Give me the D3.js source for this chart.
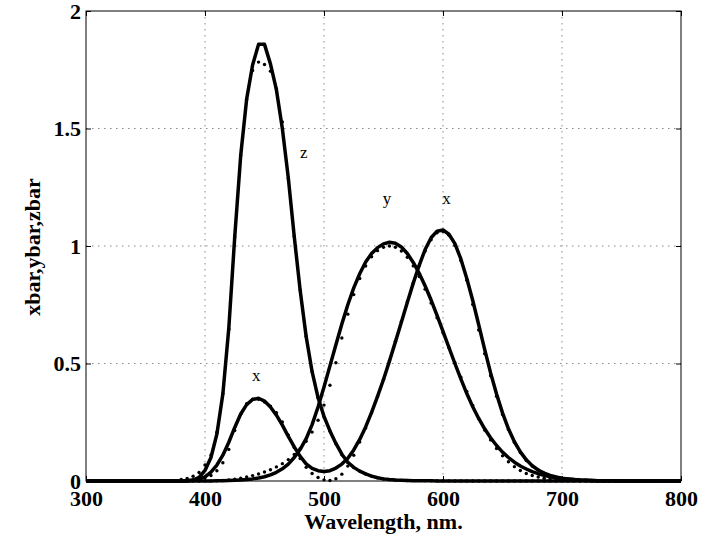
<!DOCTYPE html>
<html>
<head>
<meta charset="utf-8">
<script src="https://cdn.jsdelivr.net/npm/d3@7.9.0/dist/d3.min.js"></script>
<style>
  body { margin: 0; background: #fff; }
  svg { display: block; font-family: "Liberation Serif", "Times New Roman", Times, serif; }
</style>
</head>
<body>
<svg id="chart" width="715" height="535"></svg>
<script>
// CIE 1931 colour matching data, 5 nm steps (dotted)
const wavelengths = [380,385,390,395,400,405,410,415,420,425,430,435,440,445,450,455,460,465,470,475,
  480,485,490,495,500,505,510,515,520,525,530,535,540,545,550,555,560,565,570,575,
  580,585,590,595,600,605,610,615,620,625,630,635,640,645,650,655,660,665,670,675,
  680,685,690,695,700,705,710,715,720,725,730,735,740,745,750,755,760,765,770,775,780];

const xbarData = [
  0.0014,0.0022,0.0042,0.0076,0.0143,0.0232,0.0435,0.0776,0.1344,0.2148,
  0.2839,0.3285,0.3483,0.3481,0.3362,0.3187,0.2908,0.2511,0.1954,0.1421,
  0.0956,0.0580,0.0320,0.0147,0.0049,0.0024,0.0093,0.0291,0.0633,0.1096,
  0.1655,0.2257,0.2904,0.3597,0.4334,0.5121,0.5945,0.6784,0.7621,0.8425,
  0.9163,0.9786,1.0263,1.0567,1.0622,1.0456,1.0026,0.9384,0.8544,0.7514,
  0.6424,0.5419,0.4479,0.3608,0.2835,0.2187,0.1649,0.1212,0.0874,0.0636,
  0.0468,0.0329,0.0227,0.0158,0.0114,0.0081,0.0058,0.0041,0.0029,0.0020,
  0.0014,0.0010,0.0007,0.0005,0.0003,0.0002,0.0002,0.0001,0.0001,0.0001,
  0.0000];
const ybarData = [
  0.0000,0.0001,0.0001,0.0002,0.0004,0.0006,0.0012,0.0022,0.0040,0.0073,
  0.0116,0.0168,0.0230,0.0298,0.0380,0.0480,0.0600,0.0739,0.0910,0.1126,
  0.1390,0.1693,0.2080,0.2586,0.3230,0.4073,0.5030,0.6082,0.7100,0.7932,
  0.8620,0.9149,0.9540,0.9803,0.9950,1.0000,0.9950,0.9786,0.9520,0.9154,
  0.8700,0.8163,0.7570,0.6949,0.6310,0.5668,0.5030,0.4412,0.3810,0.3210,
  0.2650,0.2170,0.1750,0.1382,0.1070,0.0816,0.0610,0.0446,0.0320,0.0232,
  0.0170,0.0119,0.0082,0.0057,0.0041,0.0029,0.0021,0.0015,0.0010,0.0007,
  0.0005,0.0004,0.0002,0.0002,0.0001,0.0001,0.0001,0.0001,0.0000,0.0000,
  0.0000];
const zbarData = [
  0.0065,0.0105,0.0201,0.0362,0.0679,0.1102,0.2074,0.3713,0.6456,1.0391,
  1.3856,1.6230,1.7471,1.7826,1.7721,1.7441,1.6692,1.5281,1.2876,1.0419,
  0.8130,0.6162,0.4652,0.3533,0.2720,0.2123,0.1582,0.1117,0.0782,0.0573,
  0.0422,0.0298,0.0203,0.0134,0.0087,0.0057,0.0039,0.0027,0.0021,0.0018,
  0.0017,0.0014,0.0011,0.0010,0.0008,0.0006,0.0003,0.0002,0.0002,0.0001,
  0,0,0,0,0,0,0,0,0,0,
  0,0,0,0,0,0,0,0,0,0,
  0,0,0,0,0,0,0,0,0,0,
  0];

// fitted curves (solid); padded with 300 and 800 nm
const fitWavelengths = [300].concat(wavelengths, [800]);
const xFit = [0,
  0.000,0.001,0.003,0.008,0.018,0.038,0.068,0.110,0.165,0.228,
  0.285,0.325,0.347,0.352,0.340,0.315,0.280,0.238,0.190,0.145,
  0.105,0.073,0.054,0.044,0.040,0.044,0.055,0.072,0.097,0.132,
  0.177,0.230,0.292,0.360,0.432,0.510,0.592,0.676,0.760,0.842,
  0.918,0.985,1.035,1.063,1.068,1.050,1.010,0.945,0.862,0.768,
  0.665,0.560,0.460,0.370,0.290,0.222,0.167,0.124,0.090,0.065,
  0.047,0.034,0.024,0.017,0.012,0.009,0.006,0.004,0.003,0.002,
  0.0015,0.001,0.0007,0.0005,0.0003,0.0002,0.0002,0.0001,0.0001,0.0001,
  0, 0];
const yFit = [0,
  0,0,0,0,0.0002,0.0004,0.0007,0.0012,0.002,0.003,
  0.0045,0.0065,0.009,0.013,0.018,0.026,0.037,0.052,0.072,0.100,
  0.135,0.180,0.240,0.315,0.400,0.490,0.580,0.668,0.750,0.822,
  0.882,0.932,0.968,0.993,1.009,1.016,1.012,0.996,0.968,0.930,
  0.884,0.830,0.770,0.705,0.637,0.568,0.500,0.435,0.372,0.316,
  0.266,0.222,0.184,0.151,0.123,0.100,0.080,0.064,0.051,0.040,
  0.031,0.024,0.018,0.014,0.010,0.008,0.006,0.004,0.003,0.002,
  0.0015,0.001,0.0008,0.0006,0.0004,0.0003,0.0002,0.0001,0.0001,0,
  0, 0];
const zFit = [0,
  0.000,0.001,0.004,0.015,0.045,0.100,0.200,0.370,0.650,1.040,
  1.385,1.625,1.770,1.858,1.858,1.775,1.665,1.500,1.290,1.040,
  0.810,0.615,0.465,0.355,0.275,0.213,0.160,0.114,0.080,0.058,
  0.042,0.030,0.021,0.014,0.009,0.006,0.004,0.003,0.002,0.0015,
  0.001,0.0008,0.0006,0.0004,0.0003,0,0,0,0,0,
  0,0,0,0,0,0,0,0,0,0,
  0,0,0,0,0,0,0,0,0,0,
  0,0,0,0,0,0,0,0,0,0,
  0, 0];

// curve labels
const curveLabels = ["z", "y", "x", "x"];
const labelWl = [483, 553, 603, 443];
const labelVal = [1.373, 1.179, 1.179, 0.427];

// axes
const xTicks = [300, 400, 500, 600, 700, 800];
const yTicks = [0, 0.5, 1, 1.5, 2];
const yTickLabels = ["0", "0.5", "1", "1.5", "2"];

const svg = d3.select("#chart");
const margin = { top: 11, right: 34, bottom: 54, left: 86 };
const width = 715 - margin.left - margin.right;
const height = 535 - margin.top - margin.bottom;

const g = svg.append("g").attr("transform", `translate(${margin.left},${margin.top})`);

const x = d3.scaleLinear().domain([300, 800]).range([0, width]);
const y = d3.scaleLinear().domain([0, 2]).range([height, 0]);

// dotted grid
g.append("g").selectAll("line")
    .data(xTicks.filter(d => d !== 300 && d !== 800))
    .enter().append("line")
    .attr("x1", d => x(d)).attr("x2", d => x(d))
    .attr("y1", 0).attr("y2", height)
    .attr("stroke", "#8a8a8a").attr("stroke-width", 1)
    .attr("stroke-dasharray", "1.5,4.5");
g.append("g").selectAll("line")
    .data(yTicks.filter(d => d !== 0 && d !== 2))
    .enter().append("line")
    .attr("x1", 0).attr("x2", width)
    .attr("y1", d => y(d)).attr("y2", d => y(d))
    .attr("stroke", "#8a8a8a").attr("stroke-width", 1)
    .attr("stroke-dasharray", "1.5,4.5");

// axes with ticks pointing inwards
function styleAxis(sel) {
    sel.attr("font-family", null).attr("font-size", null);
    sel.select(".domain").remove();
    sel.selectAll("line").attr("stroke", "#000");
    sel.selectAll("text")
        .style("font-size", "22px")
        .style("font-weight", "bold")
        .attr("fill", "#000");
}

g.append("g")
    .call(d3.axisLeft(y).tickValues(yTicks).tickFormat((d, i) => yTickLabels[i])
        .tickSizeInner(-5).tickSizeOuter(0).tickPadding(5))
    .call(styleAxis);
g.append("g")
    .attr("transform", `translate(0,${height})`)
    .call(d3.axisBottom(x).tickValues(xTicks).tickFormat(d3.format("d"))
        .tickSizeInner(-5).tickSizeOuter(0).tickPadding(9.5))
    .call(styleAxis);
g.append("g")
    .attr("transform", `translate(${width},0)`)
    .call(d3.axisRight(y).tickValues(yTicks).tickFormat("")
        .tickSizeInner(-5).tickSizeOuter(0))
    .call(styleAxis);
g.append("g")
    .call(d3.axisTop(x).tickValues(xTicks).tickFormat("")
        .tickSizeInner(-5).tickSizeOuter(0))
    .call(styleAxis);

// box
g.append("rect")
    .attr("x", 0).attr("y", 0)
    .attr("width", width).attr("height", height)
    .attr("fill", "none")
    .attr("stroke", "#000")
    .attr("stroke-width", 1);

// fitted curves
const line = d3.line()
    .x(d => x(d[0]))
    .y(d => y(d[1]));

[xFit, yFit, zFit].forEach(fit => {
    g.append("path")
        .datum(fitWavelengths.map((w, i) => [w, fit[i]]))
        .attr("fill", "none")
        .attr("stroke", "#000")
        .attr("stroke-width", 3.5)
        .attr("stroke-linejoin", "round")
        .attr("d", line);
});

// measured data as dots
[xbarData, ybarData, zbarData].forEach(series => {
    g.append("g").selectAll("circle")
        .data(wavelengths.map((w, i) => [w, series[i]]))
        .enter().append("circle")
        .attr("cx", d => x(d[0]))
        .attr("cy", d => y(d[1]))
        .attr("r", 1.7)
        .attr("fill", "#000");
});

// curve labels
g.selectAll(".curve-label")
    .data(curveLabels)
    .enter().append("text")
    .attr("class", "curve-label")
    .attr("x", (d, i) => x(labelWl[i]))
    .attr("y", (d, i) => y(labelVal[i]))
    .attr("text-anchor", "middle")
    .style("font-size", "17px")
    .text(d => d);

// axis titles
svg.append("text")
    .attr("x", margin.left + width / 2)
    .attr("y", 529)
    .attr("text-anchor", "middle")
    .style("font-size", "22px")
    .style("font-weight", "bold")
    .text("Wavelength, nm.");

svg.append("text")
    .attr("text-anchor", "middle")
    .attr("transform", `translate(40,${margin.top + height / 2 + 1}) rotate(-90)`)
    .style("font-size", "22px")
    .style("font-weight", "bold")
    .text("xbar,ybar,zbar");
</script>
</body>
</html>
